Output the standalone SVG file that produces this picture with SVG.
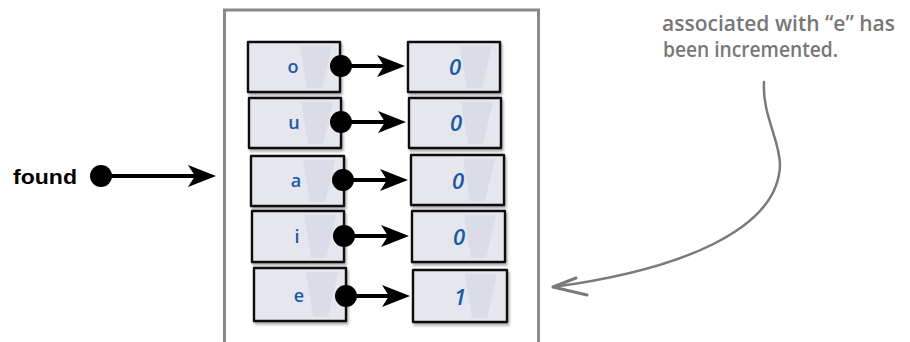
<svg xmlns="http://www.w3.org/2000/svg" width="910" height="342" viewBox="0 0 910 342">
<style>
.box{fill:#e6e6ef;stroke:#111;stroke-width:2.4;stroke-linejoin:round}
.shade{fill:#d6d6e3;opacity:0.6}
.lbl{font-family:"Open Sans","DejaVu Sans",sans-serif;font-size:18px;font-weight:600;fill:#1b5aa6;text-anchor:middle}
.num{font-family:"Open Sans","DejaVu Sans",sans-serif;font-size:22px;font-weight:600;font-style:italic;fill:#1b5aa6;text-anchor:middle}
.conn{stroke:#000;stroke-width:4;fill:none}
.head{fill:#000}
.note{font-family:"Open Sans","Noto Sans",sans-serif;font-size:21px;font-weight:600;fill:#777}
</style>
<defs>
<path id="ah" d="M0,0 L-28,-11 L-21,0 L-28,11 Z"/>
<filter id="sh" x="-10%" y="-10%" width="130%" height="140%">
<feDropShadow dx="1.5" dy="2.5" stdDeviation="1.2" flood-color="#000" flood-opacity="0.3"/>
</filter>
</defs>
<rect id="frame" x="224.5" y="10" width="314" height="345" fill="none" stroke="#8a8a8a" stroke-width="3"/>
<g id="found">
<text x="13" y="184" font-family="Liberation Sans, Arial, sans-serif" font-weight="bold" font-size="21" fill="#000" textLength="64" lengthAdjust="spacingAndGlyphs">found</text>
</g>
<g id="row-o">
<g id="key-o"><rect class="box" filter="url(#sh)" x="248" y="42" width="92" height="50"/><path class="shade" d="M300,46 L332,46 L322,88 L307,88 Z"/><text class="lbl" x="293" y="73">o</text></g>
<g id="val-o"><rect class="box" filter="url(#sh)" x="408" y="42" width="92" height="50"/><path class="shade" d="M460,46 L492,46 L482,88 L467,88 Z"/><text class="num" x="455" y="75">0</text></g>
</g>
<g id="row-u">
<g id="key-u"><rect class="box" filter="url(#sh)" x="249" y="98" width="92" height="50"/><path class="shade" d="M301,102 L333,102 L323,144 L308,144 Z"/><text class="lbl" x="294" y="129">u</text></g>
<g id="val-u"><rect class="box" filter="url(#sh)" x="409" y="98" width="92" height="50"/><path class="shade" d="M461,102 L493,102 L483,144 L468,144 Z"/><text class="num" x="456" y="131">0</text></g>
</g>
<g id="row-a">
<g id="key-a"><rect class="box" filter="url(#sh)" x="251" y="156" width="93" height="50"/><path class="shade" d="M303,160 L335,160 L325,202 L310,202 Z"/><text class="lbl" x="296" y="187">a</text></g>
<g id="val-a"><rect class="box" filter="url(#sh)" x="411" y="155" width="93" height="50"/><path class="shade" d="M463,159 L495,159 L485,201 L470,201 Z"/><text class="num" x="458" y="189">0</text></g>
</g>
<g id="row-i">
<g id="key-i"><rect class="box" filter="url(#sh)" x="252" y="211" width="92" height="51"/><path class="shade" d="M304,215 L336,215 L326,258 L311,258 Z"/><text class="lbl" x="297" y="243">i</text></g>
<g id="val-i"><rect class="box" filter="url(#sh)" x="412" y="211" width="93" height="51"/><path class="shade" d="M464,215 L496,215 L486,258 L471,258 Z"/><text class="num" x="459" y="245">0</text></g>
</g>
<g id="row-e">
<g id="key-e"><rect class="box" filter="url(#sh)" x="254" y="268" width="92" height="53"/><path class="shade" d="M306,272 L338,272 L328,317 L313,317 Z"/><text class="lbl" x="299" y="302">e</text></g>
<g id="val-e"><rect class="box" filter="url(#sh)" x="413" y="270" width="94" height="52"/><path class="shade" d="M465,274 L497,274 L487,318 L472,318 Z"/><text class="num" x="460" y="305">1</text></g>
</g>
<g id="note">
<text class="note" x="662" y="31" textLength="233" lengthAdjust="spacingAndGlyphs">associated with “e” has</text>
<text class="note" x="663" y="57" textLength="175" lengthAdjust="spacingAndGlyphs">been incremented.</text>
</g>
<g id="connectors">
<circle cx="101" cy="176" r="11" fill="#000"/>
<path class="conn" d="M101,176 L200,176"/>
<use href="#ah" class="head" transform="translate(216,176)"/>
<circle cx="341" cy="66" r="11" fill="#000"/>
<path class="conn" d="M341,66 L390,66"/>
<use href="#ah" class="head" transform="translate(405,66)"/>
<circle cx="341" cy="122" r="11" fill="#000"/>
<path class="conn" d="M341,122 L391,122"/>
<use href="#ah" class="head" transform="translate(406,122)"/>
<circle cx="343" cy="180" r="11" fill="#000"/>
<path class="conn" d="M343,180 L393,180"/>
<use href="#ah" class="head" transform="translate(408,180)"/>
<circle cx="344" cy="236" r="11" fill="#000"/>
<path class="conn" d="M344,236 L394,236"/>
<use href="#ah" class="head" transform="translate(409,236)"/>
<circle cx="346" cy="296" r="11" fill="#000"/>
<path class="conn" d="M346,296 L395,296"/>
<use href="#ah" class="head" transform="translate(410,296)"/>
<path d="M764,82 C762,115 780,140 780,165 C778,230 680,270 553,287" fill="none" stroke="#7a7a7a" stroke-width="2.5" stroke-linecap="round"/>
<path d="M576,278 L553,287 L587,295" fill="none" stroke="#7a7a7a" stroke-width="3" stroke-linecap="round" stroke-linejoin="round"/>
</g>
</svg>
